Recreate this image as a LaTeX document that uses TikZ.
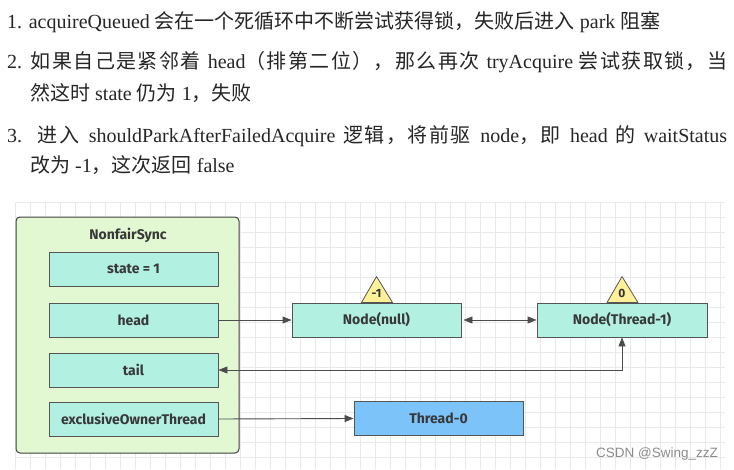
\documentclass[tikz,border=0pt]{standalone}
\usepackage{fontspec}
\setmainfont{Liberation Serif}
\newfontfamily\cjk{Noto Sans CJK SC}
\newfontfamily\boxfont{Fira Sans}
\newfontfamily\wmfont{Liberation Sans}
\usetikzlibrary{arrows.meta}
\newcommand\zh[1]{{\cjk #1}}
% CJK run with stretchable glue between characters (for justified lines)
\newcommand\zj[1]{{\cjk\zjloop#1\relax}}
\def\zjloop#1{\ifx#1\relax\else#1\hskip0pt plus 1.2pt\relax\expandafter\zjloop\fi}
\definecolor{gridc}{HTML}{E9E9E9}
\definecolor{syncfill}{HTML}{E2F8D2}
\definecolor{fldfill}{HTML}{B2F0E2}
\definecolor{thrfill}{HTML}{7CC3FA}
\definecolor{trifill}{HTML}{FFF09A}
\definecolor{edge}{HTML}{555555}
\tikzset{
  txtline/.style={anchor=base west, inner sep=0pt, font=\fontsize{20}{24}\selectfont, text=black!85},
  fld/.style={draw=edge, line width=0.9pt, fill=fldfill, minimum width=169pt, minimum height=34pt, inner sep=0pt,
    font=\boxfont\bfseries\fontsize{14}{16}\selectfont, text=black!78},
  thr/.style={fld, fill=thrfill},
  tri/.style={draw=edge, line width=0.8pt, fill=trifill, line join=round},
  trilabel/.style={font=\boxfont\bfseries\fontsize{12}{13}\selectfont, text=black!80, inner sep=0pt},
  arr/.style={draw=black!70, line width=0.9pt, -{Triangle[length=9pt,width=7pt]}},
  darr/.style={draw=black!70, line width=0.9pt, {Triangle[length=9pt,width=7pt]}-{Triangle[length=9pt,width=7pt]}}
}
\begin{document}
\begin{tikzpicture}[x=1pt,y=-1pt]
\fill[white] (0,0) rectangle (734,469);
\useasboundingbox (0,0) rectangle (734,469);
% grid
\begin{scope}
\clip (15,202) rectangle (725,469);
\foreach \gx in {15,30,...,725} \draw[gridc, line width=0.7pt] (\gx,202) -- (\gx,469);
\foreach \gy in {202,217,...,469} \draw[gridc, line width=0.7pt] (15,\gy) -- (725,\gy);
\end{scope}
% text lines
\node[txtline] (l1) at (7,28) {1. acquireQueued \zh{会在一个死循环中不断尝试获得锁，失败后进入} park \zh{阻塞}};
\node[txtline] (l2) at (7,68) {\spaceskip=5pt plus 0.6pt\makebox[720pt][s]{2. \zj{如果自己是紧邻着} head\zj{（排第二位），那么再次} tryAcquire \zj{尝试获取锁，}\zh{当}}};
\node[txtline] (l2b) at (30,100) {\zh{然这时} state \zh{仍为} 1\zh{，失败}};
\node[txtline] (l3) at (7,142) {\makebox[720pt][s]{3. \zj{进入} shouldParkAfterFailedAcquire \zj{逻辑，将前驱} node\zj{，即} head \zh{的} waitStatus}};
\node[txtline] (l3b) at (30,172) {\zh{改为} -1\zh{，这次返回} false};
% NonfairSync container
\node[draw=black!75, line width=1pt, fill=syncfill, rounded corners=4pt, minimum width=223pt, minimum height=236pt, inner sep=0pt] (sync) at (127.5,335) {};
\node[font=\boxfont\bfseries\fontsize{14}{16}\selectfont, text=black!78] (title) at (128,235) {NonfairSync};
\node[fld] (state) at (133.5,269) {state = 1};
\node[fld] (head) at (133.5,320) {head};
\node[fld] (tail) at (133.5,370) {tail};
\node[fld] (excl) at (133.5,419) {exclusiveOwnerThread};
% queue nodes
\node[fld] (nnull) at (376.5,320) {Node(null)};
\node[fld, minimum width=170pt] (nt1) at (622,320) {Node(Thread-1)};
\node[thr] (t0) at (438.5,418.5) {Thread-0};
% triangles
\draw[tri] ([xshift=-15pt]nnull.north) -- ([yshift=26pt]nnull.north) -- ([xshift=16pt]nnull.north) -- cycle;
\node[trilabel] (w1) at ([yshift=9pt]nnull.north) {-1};
\draw[tri] ([xshift=-15pt]nt1.north) -- ([yshift=26pt]nt1.north) -- ([xshift=16pt]nt1.north) -- cycle;
\node[trilabel] (w2) at ([yshift=9pt]nt1.north) {0};
% connectors
\draw[arr] (head.east) -- (nnull.west);
\draw[darr] ([xshift=2pt]nnull.east) -- (nt1.west);
\draw[darr] (tail.east) -- (tail.east -| nt1.south) -- (nt1.south);
\draw[arr] (excl.east) -- (t0.west);
% watermark
\node[anchor=base east, inner sep=0pt, font=\wmfont\fontsize{13.5}{16}\selectfont, text=black!45] (wm) at (718,457) {CSDN @Swing\_zzZ};
\end{tikzpicture}
\end{document}
